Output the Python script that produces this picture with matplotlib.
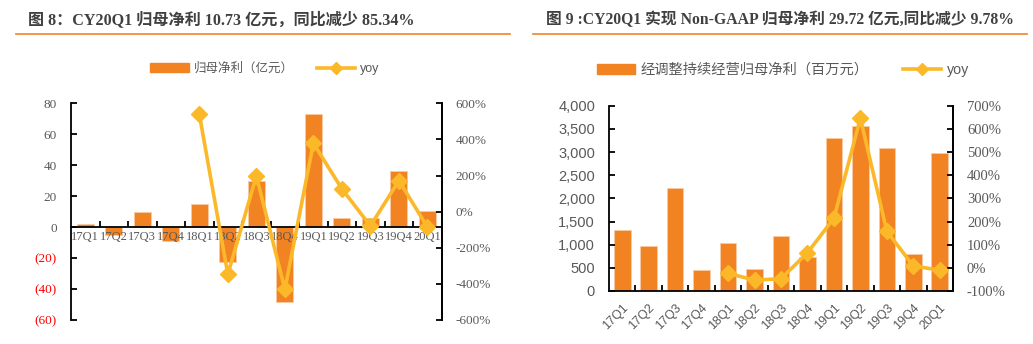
import matplotlib.pyplot as plt
from matplotlib.lines import Line2D
from matplotlib.patches import Patch

# 数据
quarters = ["17Q1", "17Q2", "17Q3", "17Q4", "18Q1", "18Q2", "18Q3",
            "18Q4", "19Q1", "19Q2", "19Q3", "19Q4", "20Q1"]

# 图8：归母净利（亿元）与同比
net_profit = [2.2, -5.4, 9.7, -9.0, 14.7, -22.7, 29.9, -48.2, 73.2, 5.8, 5.6, 36.4, 10.73]
net_yoy = [None, None, None, None, 540, -347, 198, -430, 379, 126, -79, 172, -85.34]

# 图9：经调整持续经营归母净利（百万元）与同比
adj_profit = [1317, 971, 2217, 447, 1036, 475, 1187, 740, 3296, 3556, 3081, 805, 2972]
adj_yoy = [None, None, None, None, -24, -53, -47, 65, 214, 646, 158, 8, -9.78]

bar_color = "#F28322"
line_color = "#FBB829"
gray = "#595959"
serif = ["Liberation Serif", "Noto Sans CJK SC"]
sans = ["Liberation Sans", "Noto Sans CJK SC"]

fig = plt.figure(figsize=(10.33, 3.44), dpi=100)

# 标题与橙色分隔线
fig.text(28 / 1033, 1 - 20 / 344, "图 8：CY20Q1 归母净利 10.73 亿元，同比减少 85.34%",
         family=serif, fontweight="bold", fontsize=11.6, color="#404040", va="center")
fig.text(546 / 1033, 1 - 20 / 344, "图 9 :CY20Q1 实现 Non-GAAP 归母净利 29.72 亿元,同比减少 9.78%",
         family=serif, fontweight="bold", fontsize=11.3, color="#404040", va="center")
fig.add_artist(Line2D([16 / 1033, 510 / 1033], [1 - 34 / 344] * 2, color="#F28322", lw=1.2))
fig.add_artist(Line2D([533 / 1033, 1027 / 1033], [1 - 34 / 344] * 2, color="#F28322", lw=1.2))

x = list(range(len(quarters)))


def yoy_points(vals):
    xs = [i for i, v in enumerate(vals) if v is not None]
    ys = [v for v in vals if v is not None]
    return xs, ys


# ---------- 图 8 ----------
ax1 = fig.add_axes([71 / 1033, 1 - 320 / 344, 370.7 / 1033, 216.7 / 344])
ax1.bar(x, net_profit, 0.6, color=bar_color, edgecolor="#F9CBA4", linewidth=0.6)
ax1.set_xlim(-0.5, 12.5)
ax1.set_ylim(-60, 80)
ax1.set_yticks(range(-60, 81, 20))
ylabels = []
for v in range(-60, 81, 20):
    ylabels.append("(%d)" % -v if v < 0 else str(v))
ax1.set_yticklabels(ylabels, family=serif, fontsize=9.5)
for t, v in zip(ax1.get_yticklabels(), range(-60, 81, 20)):
    t.set_color("red" if v < 0 else gray)
ax1.spines["bottom"].set_position(("data", 0))
ax1.spines["top"].set_visible(False)
for s in ["left", "right", "bottom"]:
    ax1.spines[s].set_linewidth(1.3)
ax1.set_xticks(x)
ax1.set_xticklabels(quarters, family=serif, fontsize=9, color=gray)
ax1.set_xticks([i + 0.5 for i in range(12)], minor=True)
ax1.tick_params(axis="x", which="major", length=0, pad=3)
ax1.tick_params(axis="x", which="minor", direction="in", length=4, width=1.3)
ax1.tick_params(axis="y", direction="in", length=4, width=1.3, pad=10)

ax1b = ax1.twinx()
xs, ys = yoy_points(net_yoy)
ax1b.plot(xs, ys, color=line_color, lw=2.6, marker="D", ms=8)
ax1b.set_ylim(-600, 600)
ax1b.set_yticks(range(-600, 601, 200))
ax1b.set_yticklabels(["%d%%" % v for v in range(-600, 601, 200)], family=serif, fontsize=9.5, color=gray)
ax1b.tick_params(axis="y", direction="in", length=4, width=1.3, pad=10)
ax1b.spines["top"].set_visible(False)
ax1b.spines["bottom"].set_visible(False)
ax1b.spines["left"].set_visible(False)
ax1b.spines["right"].set_linewidth(1.3)

fig.legend(handles=[Patch(color=bar_color, label="归母净利（亿元）"),
                    Line2D([], [], color=line_color, lw=2.6, marker="D", ms=6, label="yoy")],
           loc="center", bbox_to_anchor=(265 / 1033, 1 - 69 / 344), ncol=2, frameon=False,
           prop={"family": sans, "size": 9}, labelcolor=gray, handlelength=3.1,
           handleheight=0.7, columnspacing=1.8, handletextpad=0.4)

# ---------- 图 9 ----------
ax2 = fig.add_axes([609 / 1033, 1 - 291 / 344, 344 / 1033, 185.3 / 344])
ax2.bar(x, adj_profit, 0.63, color=bar_color, edgecolor="#F9CBA4", linewidth=0.6)
ax2.set_xlim(-0.5, 12.5)
ax2.set_ylim(0, 4000)
ax2.set_yticks(range(0, 4001, 500))
ax2.set_yticklabels(["{:,}".format(v) for v in range(0, 4001, 500)], family=sans, fontsize=10.5, color=gray)
ax2.spines["top"].set_visible(False)
for s in ["left", "right", "bottom"]:
    ax2.spines[s].set_linewidth(1.3)
ax2.set_xticks(x)
ax2.set_xticklabels(quarters, family=sans, fontsize=9, color=gray, rotation=45, ha="right",
                    rotation_mode="anchor")
ax2.set_xticks([i + 0.5 for i in range(12)], minor=True)
ax2.tick_params(axis="x", which="major", length=0, pad=8)
ax2.tick_params(axis="x", which="minor", direction="in", length=4, width=1.3)
ax2.tick_params(axis="y", direction="in", length=4, width=1.3, pad=10)

ax2b = ax2.twinx()
xs, ys = yoy_points(adj_yoy)
ax2b.plot(xs, ys, color=line_color, lw=2.6, marker="D", ms=8)
ax2b.set_ylim(-100, 700)
ax2b.set_yticks(range(-100, 701, 100))
ax2b.set_yticklabels(["%d%%" % v for v in range(-100, 701, 100)], family=serif, fontsize=10.5, color=gray)
ax2b.tick_params(axis="y", direction="in", length=4, width=1.3, pad=10)
ax2b.spines["top"].set_visible(False)
ax2b.spines["bottom"].set_visible(False)
ax2b.spines["left"].set_visible(False)
ax2b.spines["right"].set_linewidth(1.3)

fig.legend(handles=[Patch(color=bar_color, label="经调整持续经营归母净利（百万元）"),
                    Line2D([], [], color=line_color, lw=2.6, marker="D", ms=6, label="yoy")],
           loc="center", bbox_to_anchor=(783 / 1033, 1 - 70 / 344), ncol=2, frameon=False,
           prop={"family": sans, "size": 10.3}, labelcolor=gray, handlelength=2.65,
           handleheight=0.7, columnspacing=2.4, handletextpad=0.4)

fig.savefig("out.png", dpi=100)
